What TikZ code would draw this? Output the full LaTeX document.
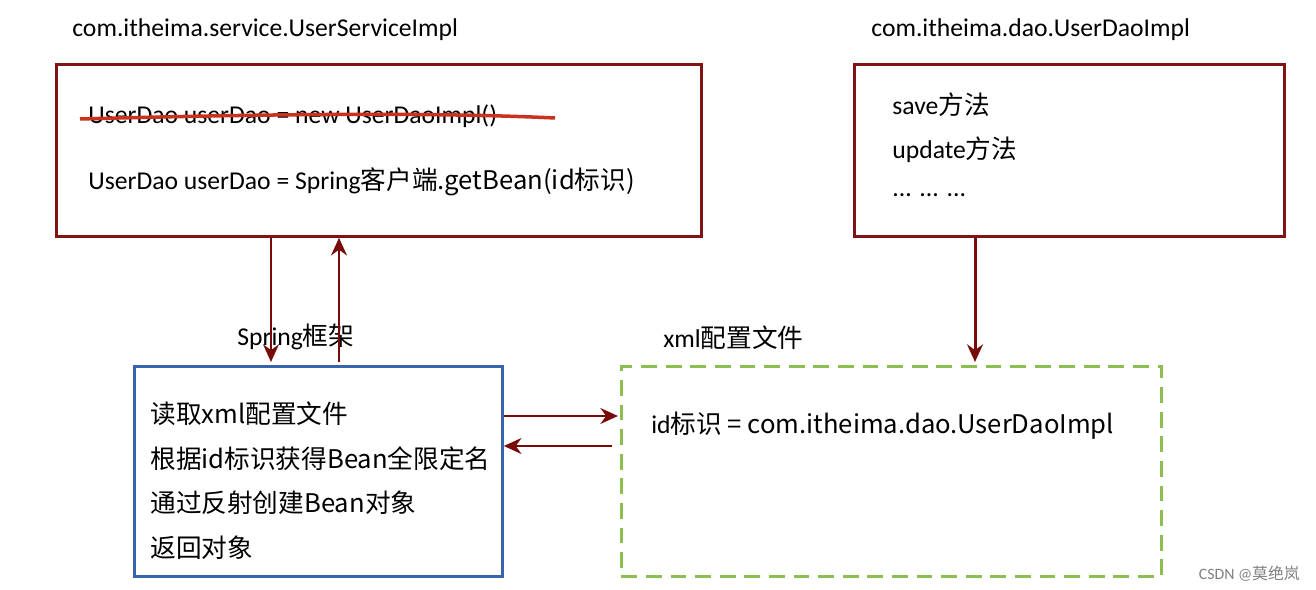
\documentclass[tikz,border=0pt]{standalone}
\usepackage{fontspec}
\setmainfont{Carlito}
\newfontfamily\cjk{Noto Sans CJK SC}
\usetikzlibrary{positioning}
\usetikzlibrary{arrows.meta}

\definecolor{boxred}{RGB}{128,20,20}
\definecolor{boxblue}{RGB}{55,100,170}
\definecolor{boxgreen}{RGB}{140,190,80}
\definecolor{arrred}{RGB}{120,10,10}
\definecolor{strike}{RGB}{200,50,30}

\tikzset{
  box/.style={draw,line width=1.6pt,anchor=north west,inner sep=0pt},
  txt/.style={anchor=west,font=\fontsize{14.6}{17}\selectfont,inner sep=0pt},
  flow/.style={-{Stealth[length=10pt,width=9pt]},arrred,line width=1.7pt}
}

\begin{document}
\begin{tikzpicture}[x=0.02cm,y=-0.02cm]
		\useasboundingbox (0,0) rectangle (1316,590);
		% boxes
		\node [box,boxred,minimum width=645*0.02cm,minimum height=172*0.02cm] (svc) at (55,63) {};
		\node [box,boxred,minimum width=430*0.02cm,minimum height=172*0.02cm] (dao) at (853,63) {};
		\node [box,boxblue,minimum width=368*0.02cm,minimum height=210*0.02cm] (spring) at (133,365) {};
		\node [box,boxgreen,dashed,dash pattern=on 9pt off 5pt,minimum width=540*0.02cm,minimum height=210*0.02cm] (xml) at (620,365) {};
		% titles
		\node [txt] (svctitle) at (72,30) {com.itheima.service.UserServiceImpl};
		\node [txt] (daotitle) at (871,30) {com.itheima.dao.UserDaoImpl};
		\node [txt] (springtitle) at (237,337) {Spring\cjk{框架}};
		\node [txt] (xmltitle) at (663,338) {xml\cjk{配置文件}};
		% service text
		\node [txt] (oldline) at (88,116) {UserDao userDao = new UserDaoImpl()};
		\draw [strike,line width=2pt] (80,119) .. controls (300,113) and (450,113) .. (555,118);
		\node [txt] (newline) at (88,182) {UserDao userDao = Spring\cjk{客户端}.getBean(id\cjk{标识})};
		% dao text
		\node [txt] (save) at (892,105) {save\cjk{方法}};
		\node [txt] (update) at (892,150) {update\cjk{方法}};
		\node [txt] (dots) at (892,195) {... ... ...};
		% spring text
		\node [txt] (s1) at (150,414) {\cjk{读取}xml\cjk{配置文件}};
		\node [txt] (s2) at (150,459) {\cjk{根据}id\cjk{标识获得}Bean\cjk{全限定名}};
		\node [txt] (s3) at (150,503) {\cjk{通过反射创建}Bean\cjk{对象}};
		\node [txt] (s4) at (150,548) {\cjk{返回对象}};
		% xml text
		\node [txt] (x1) at (651,426) {id\cjk{标识} = com.itheima.dao.UserDaoImpl};
		% connectors
		\coordinate (d1) at (271,362);
		\coordinate (u1) at (339,362);
		\coordinate (r1) at (618,416);
		\coordinate (l1) at (612,446);
		\coordinate (x2) at (975,362);
		\draw [flow] (svc.south west -| d1) -- (d1);
		\draw [flow] (u1) -- (svc.south west -| u1);
		\draw [flow] (spring.north east |- r1) -- (r1);
		\draw [flow] (l1) -- (spring.north east |- l1);
		\draw [flow] (dao.south west -| x2) -- (x2);
		\node [anchor=east,font=\fontsize{9}{10}\selectfont,gray,inner sep=0pt] (mark) at (1300,574) {CSDN @\cjk{莫绝岚}};
\end{tikzpicture}
\end{document}
